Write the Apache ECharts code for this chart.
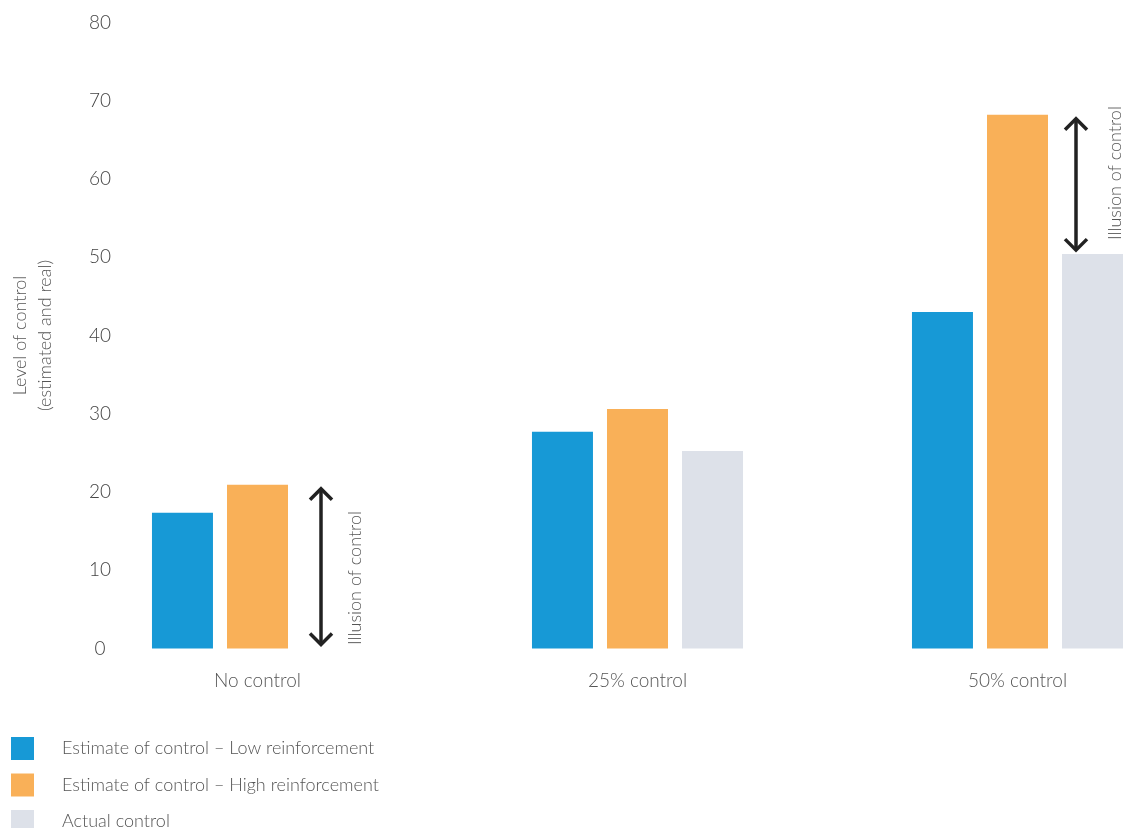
<!DOCTYPE html>
<html>
<head>
<meta charset="utf-8">
<script src="https://cdn.jsdelivr.net/npm/echarts@6/dist/echarts.min.js"></script>
<style>
html,body{margin:0;padding:0;background:#fff;}
#chart{width:1123px;height:828px;}
</style>
</head>
<body>
<div id="chart"></div>
<script>
const categories = ['No control', '25% control', '50% control'];
const lowReinforcement = [17.35, 27.7, 43.0];
const highReinforcement = [20.93, 30.6, 68.2];
const actualControl = [0, 25.24, 50.4];
const seriesNames = ['Estimate of control – Low reinforcement', 'Estimate of control – High reinforcement', 'Actual control'];
const yTicks = [0, 10, 20, 30, 40, 50, 60, 70, 80];
const illusionIdx = [0, 2];
const illusionLabel = 'Illusion of control';
const yAxisTitle = 'Level of control\n(estimated and real)';

const FONT = 'Lato';
const colors = ['#1799d6', '#f9b058', '#dde1e9'];

const arrowData = illusionIdx.map(i => [i, actualControl[i], highReinforcement[i]]);
const arrowXOff = [63.5, 58.5];
const textXOff = [97.5, 97.5];
const textBottomOff = [3.5, 14];

const chart = echarts.init(document.getElementById('chart'), null, {renderer: 'canvas'});
chart.setOption({
  animation: false,
  backgroundColor: '#ffffff',
  grid: {left: 67.5, top: 22.5, width: 1140, height: 626, containLabel: false, outerBoundsMode: 'none'},
  legend: {
    orient: 'vertical', left: 11, top: 737, height: 120, padding: 0,
    itemWidth: 23, itemHeight: 23, itemGap: 13.5, icon: 'rect',
    textStyle: {fontFamily: FONT, fontWeight: 300, fontSize: 18, color: '#555', padding: [0, 0, 0, 23]},
    data: seriesNames
  },
  xAxis: {
    type: 'category', data: categories,
    axisLine: {show: false}, axisTick: {show: false},
    axisLabel: {margin: 23, fontFamily: FONT, fontWeight: 300, fontSize: 19, color: '#555'}
  },
  yAxis: {
    type: 'value', min: yTicks[0], max: yTicks[yTicks.length - 1], interval: yTicks[1] - yTicks[0],
    splitLine: {show: false}, axisLine: {show: false}, axisTick: {show: false},
    axisLabel: {align: 'center', margin: -32.5, fontFamily: FONT, fontWeight: 300, fontSize: 19, color: '#444'},
    name: yAxisTitle, nameLocation: 'middle', nameGap: 10, nameRotate: 90,
    nameTextStyle: {fontFamily: FONT, fontWeight: 300, fontSize: 18, color: '#555', lineHeight: 25}
  },
  series: [
    {name: seriesNames[0], type: 'bar', data: lowReinforcement, barWidth: 61, barGap: '23%', itemStyle: {color: colors[0]}},
    {name: seriesNames[1], type: 'bar', data: highReinforcement, barWidth: 61, barGap: '23%', itemStyle: {color: colors[1]}},
    {name: seriesNames[2], type: 'bar', data: actualControl, barWidth: 61, barGap: '23%', itemStyle: {color: colors[2]}},
    {
      type: 'custom', silent: true, data: arrowData, z: 5,
      renderItem: function (params, api) {
        const k = params.dataIndex;
        const lo = api.coord([api.value(0), api.value(1)]);
        const hi = api.coord([api.value(0), api.value(2)]);
        const x = lo[0] + arrowXOff[k];
        const yTop = hi[1] + 3;
        const yBot = lo[1] - 3;
        const st = {stroke: '#222', lineWidth: 3.5, fill: null, lineCap: 'butt', lineJoin: 'miter'};
        return {
          type: 'group',
          children: [
            {type: 'line', shape: {x1: x, y1: yTop + 1, x2: x, y2: yBot - 1}, style: st},
            {type: 'polyline', shape: {points: [[x - 11, yTop + 12], [x, yTop + 1], [x + 11, yTop + 12]]}, style: st},
            {type: 'polyline', shape: {points: [[x - 11, yBot - 12], [x, yBot - 1], [x + 11, yBot - 12]]}, style: st},
            {type: 'text', x: lo[0] + textXOff[k], y: lo[1] - textBottomOff[k], rotation: Math.PI / 2,
              style: {text: illusionLabel, align: 'left', verticalAlign: 'middle', fontFamily: FONT, fontWeight: 300, fontSize: 18, fill: '#555'}}
          ]
        };
      }
    }
  ]
});
</script>
</body>
</html>
